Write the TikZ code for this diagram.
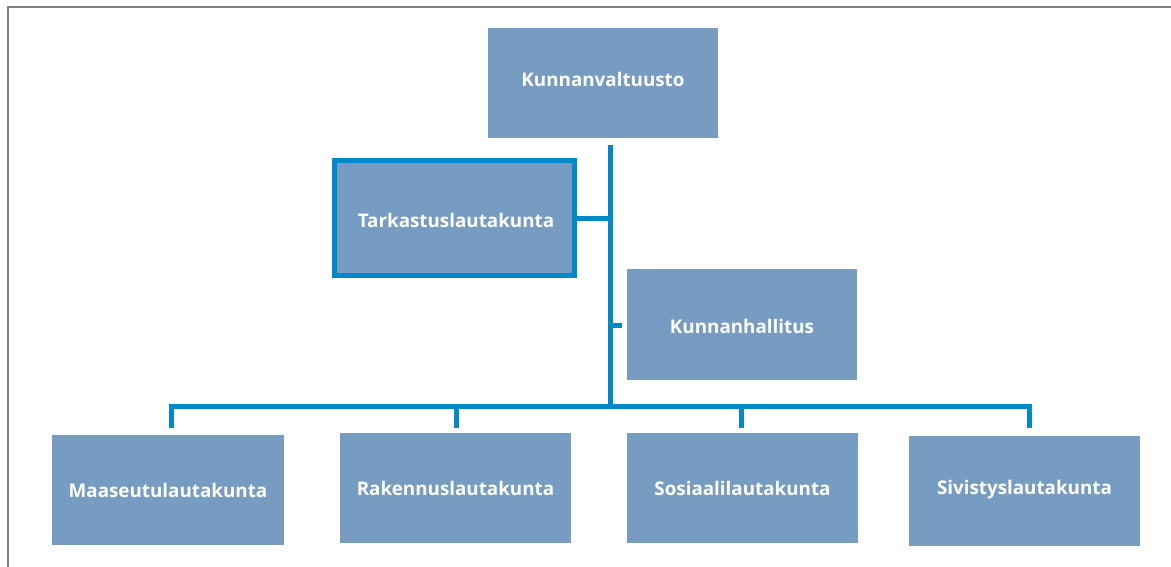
\documentclass[tikz,border=0pt]{standalone}
\usepackage{fontspec}
\setmainfont{Open Sans}
\begin{document}
\begin{tikzpicture}[x=1pt,y=-1pt,
  orgbox/.style={fill=boxfill, draw=none, minimum width=#1, inner sep=0pt},
  lbl/.style={text=white, font=\bfseries\fontsize{18.8}{22}\selectfont, inner sep=0pt},
  conn/.style={draw=linecol, line width=5pt},
]
\definecolor{boxfill}{HTML}{769CC2}
\definecolor{linecol}{HTML}{0088C8}
\definecolor{framecol}{HTML}{808080}
\useasboundingbox (0,0) rectangle (1171,567);
% frame
\draw[framecol, line width=2pt] (7.5,567) -- (7.5,7.5) -- (1171,7.5);
% boxes
\node[orgbox=230pt, minimum height=110pt] (kv) at (603,83) {};
\node[lbl] (kvt) at (603,79) {Kunnanvaltuusto};
\node[orgbox=240pt, minimum height=115pt, draw=linecol, line width=4.5pt] (tl) at (454.5,218) {};
\node[lbl] (tlt) at (456,220) {Tarkastuslautakunta};
\node[orgbox=230pt, minimum height=111pt] (kh) at (742,324.5) {};
\node[lbl] (kht) at (742,326) {Kunnanhallitus};
\node[orgbox=232pt, minimum height=110pt] (m1) at (168,490) {};
\node[lbl] (m1t) at (168,490) {Maaseutulautakunta};
\node[orgbox=231pt, minimum height=110pt] (m2) at (455.5,488) {};
\node[lbl] (m2t) at (455.5,488) {Rakennuslautakunta};
\node[orgbox=231pt, minimum height=110pt] (m3) at (742.5,488) {};
\node[lbl] (m3t) at (742.5,488) {Sosiaalilautakunta};
\node[orgbox=231pt, minimum height=110pt] (m4) at (1024.5,491) {};
\node[lbl] (m4t) at (1024.5,490) {Sivistyslautakunta};
% connectors
\coordinate (ttop) at (610,145);
\coordinate (tbot) at (610,406);
\coordinate (bl) at (171,406);
\coordinate (br) at (1029,406);
\coordinate (tjt) at (610,219);
\coordinate (tjh) at (610,325);
\coordinate (khs) at (622,325);
\path[conn] (ttop) -- (tbot);
\path[conn] (tl.east |- tjt) -- (tjt);
\path[conn] (tjh) -- (khs);
\path[conn] (171,428) -- (bl) -- (br) -- (1029,428);
\path[conn] (456,406) -- (456,428);
\path[conn] (741,406) -- (741,428);
\end{tikzpicture}
\end{document}
